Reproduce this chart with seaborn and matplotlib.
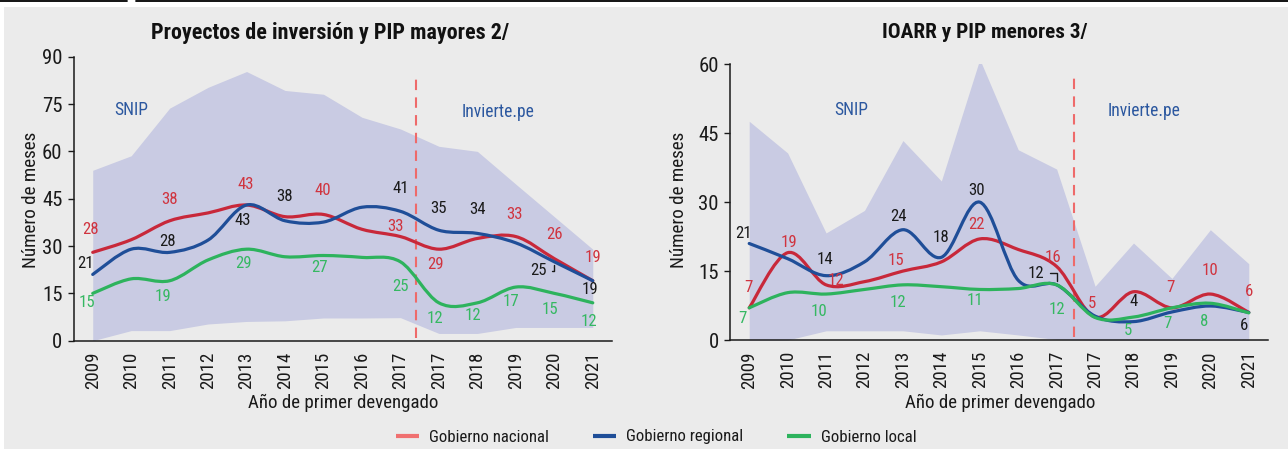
import numpy as np
import pandas as pd
import matplotlib
matplotlib.use("Agg")
import matplotlib.pyplot as plt
import seaborn as sns
from matplotlib.path import Path
from matplotlib.patches import PathPatch, Rectangle
from matplotlib.lines import Line2D
from matplotlib import font_manager as fm

# ---------------- data ----------------
years = ["2009", "2010", "2011", "2012", "2013", "2014", "2015", "2016", "2017",
         "2017", "2018", "2019", "2020", "2021"]
series_names = ["Gobierno nacional", "Gobierno regional", "Gobierno local"]

# Proyectos de inversión y PIP mayores
may_nacional = [28, 32, 38, 40.5, 43, 39.3, 40, 35.3, 33, 29, 32.4, 33, 26, 19]
may_regional = [21, 29, 28, 31.9, 43, 38, 37.6, 42.3, 41, 35, 34, 31, 25, 19]
may_local = [15, 19.6, 19, 25.6, 29, 26.6, 27, 26.4, 25, 12, 12, 17, 15, 12]
may_band_hi = [54, 58.6, 73.7, 80.3, 85.3, 79.3, 78.1, 70.8, 67.1, 61.6, 60, 49.6, 39.3, 29]
may_band_lo = [0, 3.2, 3.2, 5.3, 6.1, 6.3, 7.2, 7.2, 7.3, 2.3, 2.3, 4.2, 4.2, 4.2]

# IOARR y PIP menores
men_nacional = [7, 19, 12, 12.7, 15, 17, 22, 19.7, 16, 5, 10.5, 7, 10, 6]
men_regional = [21, 17.7, 14, 17, 24, 18, 30, 13, 12, 5.2, 4, 6.1, 7.4, 6]
men_local = [7, 10.3, 10, 11, 12, 11.6, 11, 11.2, 12, 4.9, 5, 7, 8, 5.9]
men_band_hi = [47.6, 40.7, 23.3, 28.2, 43.4, 34.6, 61.1, 41.4, 37.2, 11.7, 21.1, 13.4, 24, 16.6]
men_band_lo = [0, 0, 2, 2, 2, 1.1, 2, 1.1, 0.1, 0, 0, 0, 0, 0]

# which points get a value label: (series, index, dx px, dy px, leader)
may_labels = [
    (0, 0, -2, 23, False), (0, 2, 0, 21.5, False), (0, 4, -1, 21, False), (0, 6, -1, 23.5, False),
    (0, 8, -5, 10.5, False), (0, 9, -3, -15.5, False), (0, 11, -1, 22.5, False),
    (0, 12, 0, 24, False), (0, 13, 0, 23.5, False),
    (1, 0, -7, 10.5, False), (1, 2, -2.5, 10.5, False), (1, 4, -3.5, -15.5, False),
    (1, 5, 0, 24, False), (1, 8, 0, 22.5, False), (1, 9, 0, 22, False), (1, 10, 0, 23.5, False),
    (1, 12, -16, -9, True), (1, 13, -3, -9, False),
    (2, 0, -6, -9.5, False), (2, 2, -6.5, -16, False), (2, 4, -3.5, -14, False),
    (2, 6, -3.5, -12.5, False), (2, 8, 0, -25, False), (2, 9, -4, -15.5, False),
    (2, 10, -4, -13, False), (2, 11, -5, -14.5, False), (2, 12, -4, -16, False),
    (2, 13, -4, -19, False),
]
men_labels = [
    (0, 0, -1, 20.5, False), (0, 1, 1, 10, False), (0, 2, 9.5, 4, False), (0, 4, -6.5, 11, False),
    (0, 6, -3, 14, False), (0, 8, -4, 9, False), (0, 9, -3, 14, False), (0, 11, -1, 20.5, False),
    (0, 12, 0, 24, False), (0, 13, 0, 21, False),
    (1, 0, -6, 10, False), (1, 2, -1.5, 16, False), (1, 4, -4.5, 13, False), (1, 5, 0, 20, False),
    (1, 6, -3, 12, False), (1, 8, -20.5, 11.5, True), (1, 10, 0, 20, False), (1, 13, -4.5, -13.5, False),
    (2, 0, -7, -10.5, False), (2, 2, -7, -17.5, False), (2, 4, -5, -17.5, False),
    (2, 6, -5, -11, False), (2, 8, 0, -24.5, False), (2, 10, -6, -13.5, False),
    (2, 11, -4, -16, False), (2, 12, -6, -18.5, False),
]

# ---------------- style ----------------
sns.set_style("white")

FONT, STRETCH, COND = "Liberation Sans", "normal", False
_cands = []
for f in fm.fontManager.ttflist:
    fn = f.fname.lower()
    if ("condensed" in fn or "narrow" in fn) and not any(k in fn for k in ["bold", "italic", "oblique", "light", "semi", "extra"]):
        _cands.append(f)
if _cands:
    _pref = ["Liberation Sans Narrow", "Roboto Condensed", "DejaVu Sans"]
    _cands.sort(key=lambda f: _pref.index(f.name) if f.name in _pref else 99)
    FONT, STRETCH, COND = _cands[0].name, _cands[0].stretch, True

plt.rcParams["font.family"] = [FONT, "DejaVu Sans"]
plt.rcParams["font.stretch"] = STRETCH
S = 1.15 if COND else 1.0

line_colors = ["#C8283A", "#1F4E98", "#2DB35D"]
legend_colors = ["#F07070", "#1F4E98", "#2DB35D"]
label_colors = ["#D0343F", "#1A1A1A", "#35B862"]
band_color = "#C9CBE3"
bg_color = "#EBEBEB"
text_blue = "#2B579F"
W, H = 1288, 449

fig = plt.figure(figsize=(W / 100, H / 100), dpi=100)
fig.patch.set_facecolor("white")
fig.patches.append(Rectangle((4 / W, 0), 1, 1 - 7 / H, transform=fig.transFigure,
                             facecolor=bg_color, edgecolor="none", zorder=-10))
fig.lines.append(Line2D([0, 127 / W], [1 - 0.8 / H] * 2, transform=fig.transFigure,
                        color="black", lw=1.3))
fig.lines.append(Line2D([136 / W, 1], [1 - 0.8 / H] * 2, transform=fig.transFigure,
                        color="black", lw=1.3))


def smooth_path(xs, ys):
    pts = np.column_stack([xs, ys]).astype(float)
    n = len(pts)
    verts = [pts[0]]
    codes = [Path.MOVETO]
    for i in range(n - 1):
        p0 = pts[i - 1] if i > 0 else pts[i]
        p1 = pts[i]
        p2 = pts[i + 1]
        p3 = pts[i + 2] if i + 2 < n else pts[i + 1]
        verts += [p1 + (p2 - p0) / 6.0, p2 - (p3 - p1) / 6.0, p2]
        codes += [Path.CURVE4] * 3
    return Path(verts, codes)


LBL = 10.5 * S


def draw_panel(rect, series, band_lo, band_hi, ymax, yticks, labels, divider, div_top):
    ax = fig.add_axes(rect)
    ax.set_facecolor("none")
    x = np.arange(len(years))
    ax.fill_between(x, band_lo, band_hi, color=band_color, lw=0, zorder=1)
    df = pd.concat([pd.DataFrame({"x": x, "v": s, "serie": name})
                    for s, name in zip(series, series_names)])
    sns.lineplot(data=df, x="x", y="v", hue="serie", hue_order=series_names,
                 palette=line_colors, ax=ax, legend=False, sort=False, lw=2.2)
    for line, col in zip(list(ax.lines), line_colors):
        xs, ys = line.get_data()
        line.set_visible(False)
        ax.add_patch(PathPatch(smooth_path(xs, ys), facecolor="none", edgecolor=col,
                               lw=2.3, zorder=3, capstyle="round", joinstyle="round"))
    ax.axvline(divider, ymin=0.01, ymax=div_top, color="#EE6A6A", lw=1.5,
               dashes=(5, 3.5), zorder=2)
    for si, idx, dx, dy, leader in labels:
        val = series[si][idx]
        txt = f"{val:.0f}"
        kw = dict(xytext=(dx, dy), textcoords="offset pixels", ha="center", va="center",
                  fontsize=LBL, color=label_colors[si], zorder=5)
        if leader:
            kw["arrowprops"] = dict(arrowstyle="-", color="#1A1A1A", lw=1,
                                    connectionstyle="angle,angleA=0,angleB=90,rad=0",
                                    shrinkA=1.5, shrinkB=2.5, relpos=(1, 0.5))
        ax.annotate(txt, (idx, val), **kw)
    ax.set_xlim(-0.5, len(years) - 0.5)
    ax.set_ylim(0, ymax)
    ax.set_yticks(yticks)
    ax.set_xticks(x)
    ax.set_xticklabels(years, rotation=90)
    ax.set_xticks(np.arange(-0.5, len(years), 1.0), minor=True)
    ax.tick_params(axis="x", which="major", length=0, pad=8, labelsize=11.8 * S, colors="#1A1A1A")
    ax.tick_params(axis="x", which="minor", length=4.5, width=1, color="#1A1A1A", direction="out")
    ax.tick_params(axis="y", length=4, width=1, pad=4, labelsize=13 * S, colors="#1A1A1A",
                   direction="out", left=True)
    ax.set_xlabel("")
    ax.set_ylabel("")
    for sp in ["top", "right"]:
        ax.spines[sp].set_visible(False)
    for sp in ["left", "bottom"]:
        ax.spines[sp].set_color("#1A1A1A")
        ax.spines[sp].set_linewidth(1.1)
    return ax


ax1 = draw_panel([73.5 / W, 1 - 340.7 / H, (612 - 73.5) / W, (340.7 - 56.7) / H],
                 [may_nacional, may_regional, may_local], may_band_lo, may_band_hi,
                 90, [0, 15, 30, 45, 60, 75, 90], may_labels, 8.4, 0.937)
ax2 = draw_panel([730 / W, 1 - 340 / H, (1268 - 730) / W, (340 - 64.3) / H],
                 [men_nacional, men_regional, men_local], men_band_lo, men_band_hi,
                 60, [0, 15, 30, 45, 60], men_labels, 8.45, 0.95)


def ftext(px, py, s, **kw):
    fig.text(px / W, 1 - py / H, s, ha="center", va="center", **kw)


ftext(330, 33, "Proyectos de inversión y PIP mayores 2/", fontsize=13.8 * S, fontweight="bold", color="#111111")
ftext(985, 33, "IOARR y PIP menores 3/", fontsize=13.3 * S, fontweight="bold", color="#111111")
ftext(343, 403, "Año de primer devengado", fontsize=11.8 * S, color="#1A1A1A")
ftext(1000, 403, "Año de primer devengado", fontsize=11.8 * S, color="#1A1A1A")
ftext(31, 200, "Número de meses", fontsize=12 * S, color="#1A1A1A", rotation=90)
ftext(679, 200, "Número de meses", fontsize=12 * S, color="#1A1A1A", rotation=90)
ftext(131, 110, "SNIP", fontsize=11 * S, color=text_blue)
ftext(498, 112, "Invierte.pe", fontsize=11 * S, color=text_blue)
ftext(851, 110, "SNIP", fontsize=11 * S, color=text_blue)
ftext(1144, 111, "Invierte.pe", fontsize=11 * S, color=text_blue)

handles = [Line2D([], [], color=c, lw=3, solid_capstyle="butt") for c in legend_colors]
fig.legend(handles, series_names, loc="center", bbox_to_anchor=(656 / W, 1 - 437 / H),
           ncol=3, frameon=False, fontsize=10.5 * S, handlelength=1.4, handletextpad=0.6,
           columnspacing=2.6, labelcolor="#1A1A1A")

fig.savefig("out.png", dpi=100, facecolor="white")
